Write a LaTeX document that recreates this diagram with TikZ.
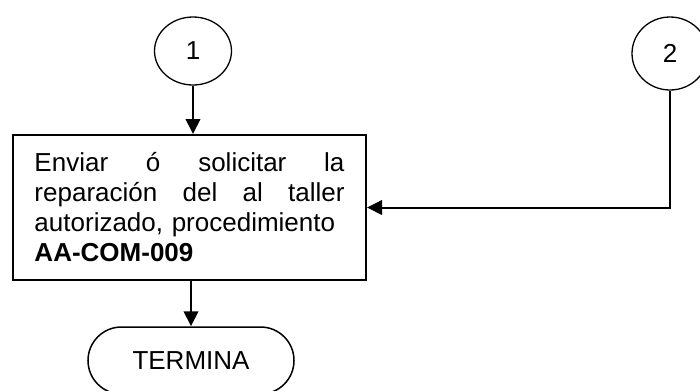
\documentclass[tikz,border=0pt]{standalone}
\usepackage{fontspec}
\setmainfont{Liberation Sans}
\usetikzlibrary{arrows.meta,shapes.geometric}
\begin{document}
\begin{tikzpicture}[x=1bp,y=-1bp,
  conn/.style={ellipse,draw,line width=1.3bp,minimum width=77bp,minimum height=68bp,inner sep=0pt},
  proc/.style={draw,line width=2bp,minimum height=145bp,text width=310bp,align=left,inner xsep=21.5bp},
  term/.style={draw,line width=1.5bp,rounded corners=33.5bp,minimum width=206bp,minimum height=67bp},
  arr/.style={line width=2bp,-{Triangle[length=15bp,width=14.5bp]}},
  font=\fontsize{26bp}{30bp}\selectfont]
\useasboundingbox (0,0) rectangle (700,390);
\node[conn] (c1) at (193,51) {1};
\node[conn,minimum width=76bp,minimum height=73bp] (c2) at (670,53.5) {2};
\node[proc] (p) at (189.5,207.5) {Enviar\hfill ó\hfill solicitar\hfill la\\ reparación\hfill del\hfill al\hfill taller\\ autorizado, procedimiento\\ \textbf{AA-COM-009}};
\node[term] (t) at (191,360.5) {TERMINA};
\draw[arr] (c1.south) -- (c1.south |- p.north);
\draw[arr] (t.north |- p.south) -- (t.north);
\draw[arr] (c2.south) |- (p.east);
\end{tikzpicture}
\end{document}
